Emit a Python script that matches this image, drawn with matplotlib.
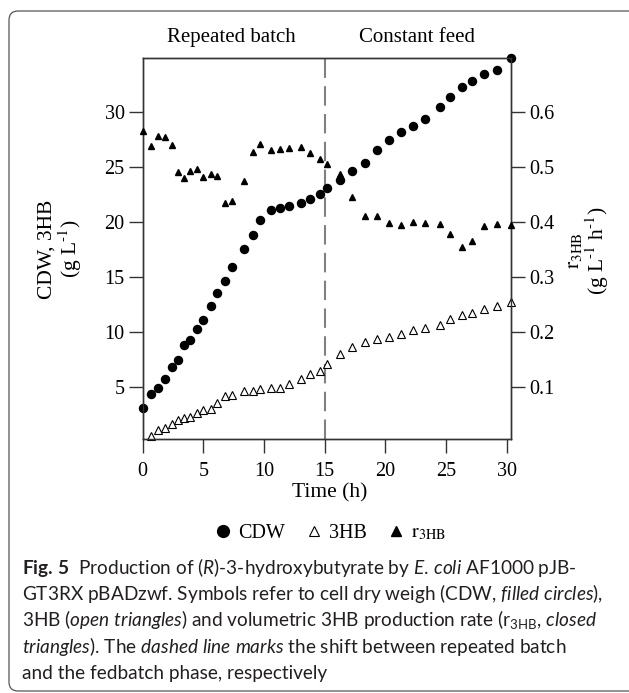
import numpy as np
import matplotlib
matplotlib.use("Agg")
import matplotlib.pyplot as plt
from matplotlib.lines import Line2D
from matplotlib.patches import FancyBboxPatch
from matplotlib.transforms import IdentityTransform

# ---------------- data ----------------
time_h = [0, 0.66, 1.29, 1.87, 2.41, 2.94, 3.40, 3.93, 4.45, 4.94,
          5.60, 6.12, 6.78, 7.33, 8.32, 9.12, 9.67, 10.60, 11.29, 12.09,
          13.02, 13.82, 14.59, 15.22, 16.29, 17.28, 18.32, 19.28, 20.30, 21.32,
          22.31, 23.29, 24.53, 25.33, 26.32, 27.14, 28.16, 29.17, 30.33]
cdw = [3.15, 4.39, 4.97, 5.75, 6.84, 7.51, 8.87, 9.29, 10.32, 11.14,
       12.35, 13.53, 14.68, 15.92, 17.55, 18.85, 20.21, 21.06, 21.27, 21.48,
       21.72, 22.12, 22.57, 23.12, 23.84, 24.60, 25.41, 26.53, 27.50, 28.20,
       28.71, 29.41, 30.50, 31.37, 32.25, 32.80, 33.49, 33.79, 34.91]
hb3 = [np.nan, 0.58, 1.13, 1.34, 1.64, 2.00, 2.24, 2.30, 2.67, 2.94,
       3.00, 3.61, 4.21, 4.33, 4.66, 4.66, 4.82, 4.91, 4.97, 5.27,
       5.72, 6.18, 6.51, 7.11, 7.99, 8.69, 9.14, 9.35, 9.59, 9.81,
       10.20, 10.38, 10.68, 11.17, 11.56, 11.71, 12.08, 12.38, 12.71]
r3hb = [0.565, 0.539, 0.557, 0.554, 0.540, 0.491, 0.480, 0.492, 0.497, 0.482,
        0.488, 0.483, 0.434, 0.438, 0.474, 0.528, 0.542, 0.531, 0.532, 0.534,
        0.536, 0.526, 0.514, 0.506, 0.488, 0.446, 0.411, 0.411, 0.398, 0.395,
        0.401, 0.398, 0.396, 0.378, 0.355, 0.365, 0.393, 0.397, 0.395]
shift_time = 15
left_ticks = [5, 10, 15, 20, 25, 30]
right_ticks = [0.1, 0.2, 0.3, 0.4, 0.5, 0.6]
x_ticks = [0, 5, 10, 15, 20, 25, 30]
phase_labels = ["Repeated batch", "Constant feed"]
caption_lines = [
    r"$\mathbf{Fig.\,5}$  Production of ($\mathit{R}$)-3-hydroxybutyrate by $\mathit{E.\,coli}$ AF1000 pJB-",
    r"GT3RX pBADzwf. Symbols refer to cell dry weigh (CDW, $\mathit{filled\ circles}$),",
    r"3HB ($\mathit{open\ triangles}$) and volumetric 3HB production rate (r$_{\mathrm{3HB}}$, $\mathit{closed}$",
    r"$\mathit{triangles}$). The $\mathit{dashed\ line\ marks}$ the shift between repeated batch",
    r"and the fedbatch phase, respectively",
]

# ---------------- style ----------------
plt.rcParams.update({
    "font.family": ["Liberation Serif", "DejaVu Serif"],
    "mathtext.fontset": "custom",
    "mathtext.rm": "Lato",
    "mathtext.it": "Lato:italic",
    "mathtext.bf": "Lato:bold",
    "lines.scale_dashes": False,
})
SERIF = ["Liberation Serif", "DejaVu Serif"]
SPINE = "#333333"

W, H = 629, 693
fig = plt.figure(figsize=(W / 100, H / 100), dpi=100)

def fx(px):
    return px / W

def fy(py):
    return 1 - py / H

# rounded frame
frame = FancyBboxPatch((9, 2), 660, 680, boxstyle="round,pad=0,rounding_size=9",
                       transform=IdentityTransform(), facecolor="none",
                       edgecolor="#555555", linewidth=0.9)
fig.patches.append(frame)

ax = fig.add_axes([fx(142.7), fy(439.3), fx(510.7) - fx(142.7), fy(58.3) - fy(439.3)])
ax2 = ax.twinx()

ylo, yhi = 0.28, 34.88
ax.set_xlim(0, 30.33)
ax.set_ylim(ylo, yhi)
ax2.set_ylim(ylo / 50, yhi / 50)

ax.axvline(shift_time, color="#808080", lw=1.5, dashes=(14, 6), zorder=1)

ax.plot(time_h, cdw, linestyle="none", marker="o", markersize=5.8,
        color="black", clip_on=False, zorder=3)
ax.plot(time_h, hb3, linestyle="none", marker="^", markersize=5.2,
        markerfacecolor="white", markeredgecolor="black", markeredgewidth=0.8,
        clip_on=False, zorder=3)
ax2.plot(time_h, r3hb, linestyle="none", marker="^", markersize=4.6,
         color="black", clip_on=False, zorder=3)

ax.set_xticks(x_ticks)
ax.set_yticks(left_ticks)
ax2.set_yticks(right_ticks)
ax2.set_yticklabels([f"{v:.1f}" for v in right_ticks])

for a in (ax, ax2):
    for s in a.spines.values():
        s.set_color(SPINE)
        s.set_linewidth(1.0)
    a.tick_params(direction="out", length=10, width=1.0, color=SPINE,
                  labelsize=14.5, labelcolor="black", pad=3)
    for lab in a.get_xticklabels() + a.get_yticklabels():
        lab.set_family(SERIF)
ax.tick_params(axis="x", pad=6)

# axis labels
fig.text(fx(61), fy(249), "CDW, 3HB\n(g L$^{\\text{-1}}$)", rotation=90, ha="center",
         va="center", multialignment="center", fontsize=15.5, family=SERIF,
         math_fontfamily="stix", linespacing=1.0)
fig.text(fx(588), fy(251), "$\\mathrm{r}_{\\mathrm{3HB}}$\n(g L$^{\\text{-1}}$ h$^{\\text{-1}}$)",
         rotation=90, ha="center", va="center", multialignment="center", fontsize=15.5,
         family=SERIF, math_fontfamily="stix", linespacing=1.0)
fig.text(fx(330), fy(493), "Time (h)", ha="center", va="center",
         fontsize=15.5, family=SERIF)

# phase labels
fig.text(fx(231.7), fy(37.5), phase_labels[0], ha="center", va="center",
         fontsize=15, family=SERIF)
fig.text(fx(416.7), fy(37.5), phase_labels[1], ha="center", va="center",
         fontsize=15, family=SERIF)

# legend
handles = [
    Line2D([], [], linestyle="none", marker="o", markersize=8.5, color="black"),
    Line2D([], [], linestyle="none", marker="^", markersize=7.5,
           markerfacecolor="white", markeredgecolor="black", markeredgewidth=0.8),
    Line2D([], [], linestyle="none", marker="^", markersize=7, color="black"),
]
labels = ["CDW", "3HB", "$\\mathrm{r}_{\\mathrm{3HB}}$"]
leg = fig.legend(handles, labels, loc="center", bbox_to_anchor=(fx(330), fy(533)),
                 ncol=3, frameon=False, handlelength=0.9, handletextpad=0.3,
                 columnspacing=1.0, prop={"family": SERIF, "size": 14.5,
                                          "math_fontfamily": "stix"})

# caption
for i, line in enumerate(caption_lines):
    fig.text(fx(22), fy(574 + 26.2 * i), line, ha="left", va="baseline",
             fontsize=13.7, family=["Lato", "DejaVu Sans"], color="#231f20")

fig.savefig("out.png", dpi=100)
